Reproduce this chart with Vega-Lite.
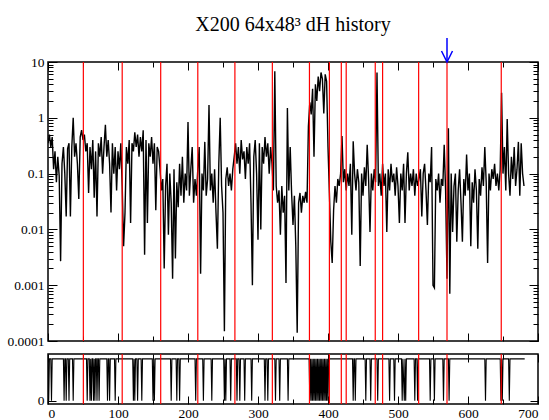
{
"$schema": "https://vega.github.io/schema/vega-lite/v6.json",
"autosize": {"type": "pad"},
"padding": {"left": 6, "top": 15, "right": 0, "bottom": 0},
"background": "white",
"config": {
  "font": "Liberation Serif",
  "view": {"stroke": "black", "strokeWidth": 1.5},
  "axis": {"domain": false, "grid": false, "labelFont": "Liberation Serif", "labelFontSize": 13.5, "labelColor": "black", "tickColor": "black", "tickWidth": 1, "title": null}
},
"title": {"text": "X200 64x48³ dH history", "fontSize": 20, "font": "Liberation Serif", "fontWeight": "normal", "anchor": "middle", "frame": "group", "offset": 1, "color": "black"},
"spacing": 13,
"bounds": "flush",
"datasets": {
  "dh": [
{"step":0,"dh":0.35},{"step":2,"dh":0.5},{"step":4,"dh":0.3},{"step":6,"dh":0.45},{"step":8,"dh":0.12},{"step":10,"dh":0.25},{"step":12,"dh":0.07},{"step":14,"dh":0.2},{"step":16,"dh":0.09},{"step":18,"dh":0.0027},
{"step":20,"dh":0.15},{"step":22,"dh":0.3},{"step":24,"dh":0.1},{"step":26,"dh":0.017},{"step":28,"dh":0.28},{"step":30,"dh":0.35},{"step":32,"dh":0.017},{"step":34,"dh":0.3},{"step":36,"dh":1.0},{"step":38,"dh":0.2},
{"step":40,"dh":0.35},{"step":42,"dh":0.15},{"step":44,"dh":0.035},{"step":46,"dh":0.45},{"step":48,"dh":0.6},{"step":50,"dh":0.4},{"step":52,"dh":0.5},{"step":54,"dh":0.25},{"step":56,"dh":0.35},{"step":58,"dh":0.045},
{"step":60,"dh":0.3},{"step":62,"dh":0.12},{"step":64,"dh":0.4},{"step":66,"dh":0.037},{"step":68,"dh":0.25},{"step":70,"dh":0.017},{"step":72,"dh":0.35},{"step":74,"dh":0.2},{"step":76,"dh":0.45},{"step":78,"dh":0.1},
{"step":80,"dh":0.3},{"step":82,"dh":0.75},{"step":84,"dh":0.2},{"step":86,"dh":0.4},{"step":88,"dh":0.15},{"step":90,"dh":0.02},{"step":92,"dh":0.35},{"step":94,"dh":0.1},{"step":96,"dh":0.3},{"step":98,"dh":0.05},
{"step":100,"dh":0.25},{"step":102,"dh":0.12},{"step":104,"dh":0.35},{"step":106,"dh":0.06},{"step":108,"dh":0.005},{"step":110,"dh":0.02},{"step":112,"dh":0.3},{"step":114,"dh":0.15},{"step":116,"dh":0.4},{"step":118,"dh":0.013},
{"step":120,"dh":0.35},{"step":122,"dh":0.25},{"step":124,"dh":0.55},{"step":126,"dh":0.3},{"step":128,"dh":0.5},{"step":130,"dh":0.2},{"step":132,"dh":0.45},{"step":134,"dh":0.25},{"step":136,"dh":0.6},{"step":138,"dh":0.0035},
{"step":140,"dh":0.4},{"step":142,"dh":0.013},{"step":144,"dh":0.35},{"step":146,"dh":0.2},{"step":148,"dh":0.45},{"step":150,"dh":0.15},{"step":152,"dh":0.35},{"step":154,"dh":0.022},{"step":156,"dh":0.3},{"step":158,"dh":0.25},
{"step":160,"dh":0.12},{"step":162,"dh":0.05},{"step":164,"dh":0.08},{"step":166,"dh":0.002},{"step":168,"dh":0.06},{"step":170,"dh":0.15},{"step":172,"dh":0.008},{"step":174,"dh":0.1},{"step":176,"dh":0.03},{"step":178,"dh":0.0013},
{"step":180,"dh":0.12},{"step":182,"dh":0.003},{"step":184,"dh":0.07},{"step":186,"dh":0.025},{"step":188,"dh":0.15},{"step":190,"dh":0.04},{"step":192,"dh":0.2},{"step":194,"dh":0.03},{"step":196,"dh":0.1},{"step":198,"dh":0.05},
{"step":200,"dh":0.84},{"step":202,"dh":0.04},{"step":204,"dh":0.12},{"step":206,"dh":0.3},{"step":208,"dh":0.03},{"step":210,"dh":0.08},{"step":212,"dh":0.04},{"step":214,"dh":0.12},{"step":216,"dh":0.3},{"step":218,"dh":0.0016},
{"step":220,"dh":0.1},{"step":222,"dh":0.05},{"step":224,"dh":0.37},{"step":226,"dh":0.04},{"step":228,"dh":0.08},{"step":230,"dh":1.7},{"step":232,"dh":0.05},{"step":234,"dh":0.1},{"step":236,"dh":0.03},{"step":238,"dh":0.12},
{"step":240,"dh":0.02},{"step":242,"dh":0.0045},{"step":244,"dh":0.15},{"step":246,"dh":1.0},{"step":248,"dh":0.06},{"step":250,"dh":0.02},{"step":252,"dh":0.00015},{"step":254,"dh":0.08},{"step":256,"dh":0.13},{"step":258,"dh":0.06},
{"step":260,"dh":0.1},{"step":262,"dh":0.05},{"step":264,"dh":0.12},{"step":266,"dh":0.2},{"step":268,"dh":0.35},{"step":270,"dh":0.15},{"step":272,"dh":0.3},{"step":274,"dh":0.1},{"step":276,"dh":0.4},{"step":278,"dh":0.18},
{"step":280,"dh":0.25},{"step":282,"dh":0.08},{"step":284,"dh":0.3},{"step":286,"dh":0.15},{"step":288,"dh":0.35},{"step":290,"dh":0.03},{"step":292,"dh":0.001},{"step":294,"dh":0.2},{"step":296,"dh":0.4},{"step":298,"dh":0.1},
{"step":300,"dh":0.0065},{"step":302,"dh":0.35},{"step":304,"dh":0.01},{"step":306,"dh":0.3},{"step":308,"dh":0.15},{"step":310,"dh":0.45},{"step":312,"dh":0.2},{"step":314,"dh":0.35},{"step":316,"dh":0.1},{"step":318,"dh":0.3},
{"step":320,"dh":0.15},{"step":322,"dh":0.05},{"step":324,"dh":6.8},{"step":326,"dh":0.06},{"step":328,"dh":0.03},{"step":330,"dh":0.05},{"step":332,"dh":0.008},{"step":334,"dh":0.06},{"step":336,"dh":0.02},{"step":338,"dh":0.04},
{"step":340,"dh":0.0011},{"step":342,"dh":1.5},{"step":344,"dh":0.05},{"step":346,"dh":0.3},{"step":348,"dh":0.045},{"step":350,"dh":0.012},{"step":352,"dh":0.04},{"step":354,"dh":0.005},{"step":356,"dh":0.00014},{"step":358,"dh":0.03},
{"step":360,"dh":0.045},{"step":362,"dh":0.02},{"step":364,"dh":0.04},{"step":366,"dh":0.03},{"step":368,"dh":0.047},{"step":370,"dh":0.03},{"step":372,"dh":0.7},{"step":374,"dh":1.9},{"step":376,"dh":1.15},{"step":378,"dh":3.3},
{"step":380,"dh":0.2},{"step":382,"dh":4.0},{"step":384,"dh":2.0},{"step":386,"dh":5.5},{"step":388,"dh":3.0},{"step":390,"dh":6.5},{"step":392,"dh":5.0},{"step":394,"dh":1.2},{"step":396,"dh":6.0},{"step":398,"dh":4.5},
{"step":400,"dh":0.3},{"step":402,"dh":0.045},{"step":404,"dh":0.006},{"step":406,"dh":0.0025},{"step":408,"dh":0.022},{"step":410,"dh":0.06},{"step":412,"dh":0.03},{"step":414,"dh":0.08},{"step":416,"dh":0.06},{"step":418,"dh":0.1},
{"step":420,"dh":0.47},{"step":422,"dh":0.07},{"step":424,"dh":0.12},{"step":426,"dh":0.05},{"step":428,"dh":0.1},{"step":430,"dh":0.06},{"step":432,"dh":0.15},{"step":434,"dh":0.008},{"step":436,"dh":0.38},{"step":438,"dh":0.1},
{"step":440,"dh":0.05},{"step":442,"dh":0.12},{"step":444,"dh":0.07},{"step":446,"dh":0.0022},{"step":448,"dh":0.1},{"step":450,"dh":0.04},{"step":452,"dh":0.13},{"step":454,"dh":0.06},{"step":456,"dh":0.33},{"step":458,"dh":0.08},
{"step":460,"dh":0.009},{"step":462,"dh":0.1},{"step":464,"dh":0.05},{"step":466,"dh":0.12},{"step":468,"dh":0.07},{"step":470,"dh":6.5},{"step":472,"dh":0.06},{"step":474,"dh":0.1},{"step":476,"dh":0.04},{"step":478,"dh":0.15},
{"step":480,"dh":0.06},{"step":482,"dh":0.1},{"step":484,"dh":0.009},{"step":486,"dh":0.12},{"step":488,"dh":0.05},{"step":490,"dh":0.15},{"step":492,"dh":0.07},{"step":494,"dh":0.1},{"step":496,"dh":0.04},{"step":498,"dh":0.13},
{"step":500,"dh":0.06},{"step":502,"dh":0.013},{"step":504,"dh":0.1},{"step":506,"dh":0.05},{"step":508,"dh":0.15},{"step":510,"dh":0.013},{"step":512,"dh":0.1},{"step":514,"dh":0.24},{"step":516,"dh":0.05},{"step":518,"dh":0.1},
{"step":520,"dh":0.06},{"step":522,"dh":0.12},{"step":524,"dh":0.04},{"step":526,"dh":0.1},{"step":528,"dh":0.06},{"step":530,"dh":0.08},{"step":532,"dh":0.12},{"step":534,"dh":0.017},{"step":536,"dh":0.1},{"step":538,"dh":0.15},
{"step":540,"dh":0.05},{"step":542,"dh":0.012},{"step":544,"dh":0.1},{"step":546,"dh":0.07},{"step":548,"dh":0.3},{"step":550,"dh":0.001},{"step":552,"dh":0.0009},{"step":554,"dh":0.08},{"step":556,"dh":0.05},{"step":558,"dh":0.1},
{"step":560,"dh":0.03},{"step":562,"dh":0.08},{"step":564,"dh":0.06},{"step":566,"dh":0.33},{"step":568,"dh":0.05},{"step":570,"dh":0.0013},{"step":572,"dh":0.65},{"step":574,"dh":0.0007},{"step":576,"dh":0.1},{"step":578,"dh":0.009},
{"step":580,"dh":0.06},{"step":582,"dh":0.1},{"step":584,"dh":0.006},{"step":586,"dh":0.05},{"step":588,"dh":0.12},{"step":590,"dh":0.03},{"step":592,"dh":0.006},{"step":594,"dh":0.08},{"step":596,"dh":0.04},{"step":598,"dh":0.22},
{"step":600,"dh":0.05},{"step":602,"dh":0.1},{"step":604,"dh":0.005},{"step":606,"dh":0.07},{"step":608,"dh":0.03},{"step":610,"dh":0.12},{"step":612,"dh":0.05},{"step":614,"dh":0.0045},{"step":616,"dh":0.08},{"step":618,"dh":0.04},
{"step":620,"dh":0.13},{"step":622,"dh":0.06},{"step":624,"dh":0.3},{"step":626,"dh":0.07},{"step":628,"dh":0.0025},{"step":630,"dh":0.1},{"step":632,"dh":0.05},{"step":634,"dh":0.12},{"step":636,"dh":0.08},{"step":638,"dh":0.15},
{"step":640,"dh":0.06},{"step":642,"dh":0.1},{"step":644,"dh":0.05},{"step":646,"dh":0.12},{"step":648,"dh":2.8},{"step":650,"dh":0.1},{"step":652,"dh":0.3},{"step":654,"dh":0.05},{"step":656,"dh":0.95},{"step":658,"dh":0.1},
{"step":660,"dh":0.04},{"step":662,"dh":0.2},{"step":664,"dh":0.08},{"step":666,"dh":0.3},{"step":668,"dh":0.06},{"step":670,"dh":0.12},{"step":672,"dh":0.37},{"step":674,"dh":0.04},{"step":676,"dh":0.35},{"step":678,"dh":0.1},{"step":680,"dh":0.06}
  ],
  "acc": [
{"step":0,"acc":1},{"step":1,"acc":0},{"step":2,"acc":1},{"step":4,"acc":1},{"step":5,"acc":0},{"step":6,"acc":1},
{"step":22,"acc":1},{"step":23,"acc":0},{"step":24,"acc":1},{"step":25,"acc":1},{"step":26,"acc":0},{"step":27,"acc":1},{"step":29,"acc":1},{"step":30,"acc":0},{"step":31,"acc":1},{"step":35,"acc":1},{"step":36,"acc":0},{"step":37,"acc":1},
{"step":55,"acc":1},{"step":56,"acc":0},{"step":57,"acc":1},{"step":59,"acc":1},{"step":60,"acc":0},{"step":61,"acc":1},{"step":62,"acc":0},{"step":63,"acc":1},{"step":64,"acc":1},{"step":65,"acc":0},{"step":66,"acc":1},{"step":67,"acc":0},{"step":68,"acc":1},{"step":69,"acc":1},{"step":70,"acc":0},{"step":71,"acc":1},{"step":72,"acc":1},{"step":73,"acc":0},{"step":74,"acc":1},
{"step":84,"acc":1},{"step":85,"acc":0},{"step":86,"acc":1},{"step":87,"acc":1},{"step":88,"acc":0},{"step":89,"acc":1},{"step":95,"acc":1},{"step":96,"acc":0},{"step":97,"acc":1},
{"step":121,"acc":1},{"step":122,"acc":0},{"step":123,"acc":1},{"step":124,"acc":0},{"step":125,"acc":1},{"step":127,"acc":1},{"step":128,"acc":0},{"step":129,"acc":1},{"step":133,"acc":1},{"step":134,"acc":0},{"step":135,"acc":1},
{"step":149,"acc":1},{"step":150,"acc":0},{"step":151,"acc":1},{"step":152,"acc":0},{"step":153,"acc":1},
{"step":175,"acc":1},{"step":176,"acc":0},{"step":177,"acc":1},{"step":183,"acc":1},{"step":184,"acc":0},{"step":185,"acc":1},{"step":187,"acc":1},{"step":188,"acc":0},{"step":189,"acc":1},
{"step":210,"acc":1},{"step":211,"acc":0},{"step":212,"acc":1},{"step":221,"acc":1},{"step":222,"acc":0},{"step":223,"acc":1},{"step":233,"acc":1},{"step":234,"acc":0},{"step":235,"acc":1},
{"step":251,"acc":1},{"step":252,"acc":0},{"step":253,"acc":1},{"step":254,"acc":0},{"step":255,"acc":1},{"step":260,"acc":1},{"step":261,"acc":0},{"step":262,"acc":1},
{"step":269,"acc":1},{"step":270,"acc":0},{"step":271,"acc":1},{"step":273,"acc":1},{"step":274,"acc":0},{"step":275,"acc":1},{"step":280,"acc":1},{"step":281,"acc":0},{"step":282,"acc":1},{"step":290,"acc":1},{"step":291,"acc":0},{"step":292,"acc":1},
{"step":309,"acc":1},{"step":310,"acc":0},{"step":311,"acc":1},{"step":313,"acc":1},{"step":314,"acc":0},{"step":315,"acc":1},{"step":324,"acc":1},{"step":325,"acc":0},{"step":326,"acc":1},{"step":330,"acc":1},{"step":331,"acc":0},{"step":332,"acc":1},{"step":342,"acc":1},{"step":343,"acc":0},{"step":344,"acc":1},
{"step":373,"acc":1},{"step":374,"acc":0},{"step":375,"acc":1},{"step":376,"acc":0},{"step":377,"acc":1},{"step":378,"acc":0},{"step":379,"acc":1},{"step":380,"acc":0},{"step":381,"acc":1},{"step":382,"acc":0},{"step":383,"acc":1},{"step":384,"acc":0},{"step":385,"acc":1},{"step":386,"acc":0},{"step":387,"acc":1},{"step":388,"acc":0},{"step":389,"acc":1},{"step":390,"acc":0},{"step":391,"acc":1},{"step":392,"acc":0},{"step":393,"acc":1},{"step":394,"acc":0},{"step":395,"acc":1},{"step":396,"acc":0},{"step":397,"acc":1},{"step":398,"acc":0},{"step":399,"acc":1},{"step":400,"acc":0},{"step":401,"acc":1},
{"step":435,"acc":1},{"step":436,"acc":0},{"step":437,"acc":1},{"step":438,"acc":1},{"step":439,"acc":0},{"step":440,"acc":1},{"step":453,"acc":1},{"step":454,"acc":0},{"step":455,"acc":1},{"step":460,"acc":1},{"step":461,"acc":0},{"step":462,"acc":1},{"step":470,"acc":1},{"step":471,"acc":0},{"step":472,"acc":1},
{"step":487,"acc":1},{"step":488,"acc":0},{"step":489,"acc":1},{"step":494,"acc":1},{"step":495,"acc":0},{"step":496,"acc":1},{"step":505,"acc":1},{"step":506,"acc":0},{"step":507,"acc":1},{"step":509,"acc":0},{"step":510,"acc":1},{"step":511,"acc":0},{"step":512,"acc":1},
{"step":523,"acc":1},{"step":524,"acc":0},{"step":525,"acc":1},{"step":527,"acc":1},{"step":528,"acc":0},{"step":529,"acc":1},{"step":545,"acc":1},{"step":546,"acc":0},{"step":547,"acc":1},{"step":551,"acc":1},{"step":552,"acc":0},{"step":553,"acc":1},
{"step":564,"acc":1},{"step":565,"acc":0},{"step":566,"acc":1},{"step":572,"acc":1},{"step":573,"acc":0},{"step":574,"acc":1},{"step":624,"acc":1},{"step":625,"acc":0},{"step":626,"acc":1},
{"step":646,"acc":1},{"step":647,"acc":0},{"step":648,"acc":1},{"step":649,"acc":0},{"step":650,"acc":1},{"step":658,"acc":1},{"step":659,"acc":0},{"step":660,"acc":1},{"step":681,"acc":1}
  ],
  "marks": [
{"step":50.5},{"step":106},{"step":161},{"step":214},{"step":267},{"step":320.5},{"step":373.5},{"step":402},{"step":419},{"step":426},{"step":467.5},{"step":478},{"step":529.5},{"step":570},{"step":647.5}
  ],
  "arrow": [{"step":570,"lo":10,"hi":27}]
},
"vconcat": [
  {
    "width": 490, "height": 279,
    "layer": [
      {
        "data": {"name": "dh"},
        "mark": {"type": "line", "color": "black", "strokeWidth": 1.4, "clip": true},
        "encoding": {
          "x": {"field": "step", "type": "quantitative", "scale": {"domain": [0, 700], "nice": false, "zero": false},
                "axis": {"orient": "bottom", "values": [0,50,100,150,200,250,300,350,400,450,500,550,600,650,700], "labels": false,
                         "tickSize": {"condition": {"test": "datum.value % 100 === 0", "value": -8}, "value": -5}}},
          "y": {"field": "dh", "type": "quantitative", "scale": {"type": "log", "domain": [0.0001, 10], "nice": false},
                "axis": {"orient": "left", "values": [0.0001,0.0002,0.0003,0.0004,0.0005,0.0006,0.0007,0.0008,0.0009,0.001,0.002,0.003,0.004,0.005,0.006,0.007,0.008,0.009,0.01,0.02,0.03,0.04,0.05,0.06,0.07,0.08,0.09,0.1,0.2,0.3,0.4,0.5,0.6,0.7,0.8,0.9,1,2,3,4,5,6,7,8,9,10],
                         "labelExpr": "indexof([0.0001,0.001,0.01,0.1,1,10], datum.value) >= 0 ? format(datum.value, '~g') : ''",
                         "tickSize": {"condition": {"test": "indexof([0.0001,0.001,0.01,0.1,1,10], datum.value) >= 0", "value": -9}, "value": -5},
                         "labelPadding": 13}}
        }
      },
      {
        "data": {"name": "marks"},
        "mark": {"type": "rule", "color": "#ff0000", "strokeWidth": 1.2},
        "encoding": {
          "x": {"field": "step", "type": "quantitative",
                "axis": {"orient": "top", "values": [0,50,100,150,200,250,300,350,400,450,500,550,600,650,700], "labels": false,
                         "tickSize": {"condition": {"test": "datum.value % 100 === 0", "value": -8}, "value": -5}}},
          "y": {"datum": 0.0001,
                "axis": {"orient": "right", "values": [0.0001,0.0002,0.0003,0.0004,0.0005,0.0006,0.0007,0.0008,0.0009,0.001,0.002,0.003,0.004,0.005,0.006,0.007,0.008,0.009,0.01,0.02,0.03,0.04,0.05,0.06,0.07,0.08,0.09,0.1,0.2,0.3,0.4,0.5,0.6,0.7,0.8,0.9,1,2,3,4,5,6,7,8,9,10],
                         "labels": false,
                         "tickSize": {"condition": {"test": "indexof([0.0001,0.001,0.01,0.1,1,10], datum.value) >= 0", "value": -9}, "value": -5}}},
          "y2": {"datum": 10}
        }
      },
      {
        "data": {"name": "arrow"},
        "mark": {"type": "rule", "color": "#0000ff", "strokeWidth": 1.5, "clip": false},
        "encoding": {
          "x": {"field": "step", "type": "quantitative", "axis": null},
          "y": {"field": "lo", "type": "quantitative", "axis": null},
          "y2": {"field": "hi"}
        }
      },
      {
        "data": {"name": "arrow"},
        "mark": {"type": "point", "shape": "M-1,-2L0,0L1,-2", "filled": false, "stroke": "#0000ff", "strokeWidth": 1.5, "size": 121, "opacity": 1, "clip": false},
        "encoding": {
          "x": {"field": "step", "type": "quantitative", "axis": null},
          "y": {"field": "lo", "type": "quantitative", "axis": null}
        }
      }
    ],
    "resolve": {"axis": {"x": "independent", "y": "independent"}}
  },
  {
    "width": 490, "height": 50,
    "layer": [
      {
        "data": {"name": "acc"},
        "mark": {"type": "line", "color": "black", "strokeWidth": 1.1, "clip": true},
        "encoding": {
          "x": {"field": "step", "type": "quantitative", "scale": {"domain": [0, 700], "nice": false, "zero": false},
                "axis": {"orient": "bottom", "values": [0,50,100,150,200,250,300,350,400,450,500,550,600,650,700],
                         "labelExpr": "datum.value % 100 === 0 ? datum.label : ''",
                         "tickSize": {"condition": {"test": "datum.value % 100 === 0", "value": -8}, "value": -5},
                         "labelPadding": 10}},
          "y": {"field": "acc", "type": "quantitative", "scale": {"domain": [-0.076, 1.116], "nice": false, "zero": false},
                "axis": {"orient": "left", "values": [0], "tickSize": -8, "labelPadding": 12}}
        }
      },
      {
        "data": {"name": "marks"},
        "mark": {"type": "rule", "color": "#ff0000", "strokeWidth": 1.2},
        "encoding": {
          "x": {"field": "step", "type": "quantitative",
                "axis": {"orient": "top", "values": [0,50,100,150,200,250,300,350,400,450,500,550,600,650,700], "labels": false,
                         "tickSize": {"condition": {"test": "datum.value % 100 === 0", "value": -8}, "value": -5}}},
          "y": {"datum": -0.076, "axis": {"orient": "right", "values": [0], "labels": false, "tickSize": -8}},
          "y2": {"datum": 1.116}
        }
      }
    ],
    "resolve": {"axis": {"x": "independent", "y": "independent"}}
  }
]
}
